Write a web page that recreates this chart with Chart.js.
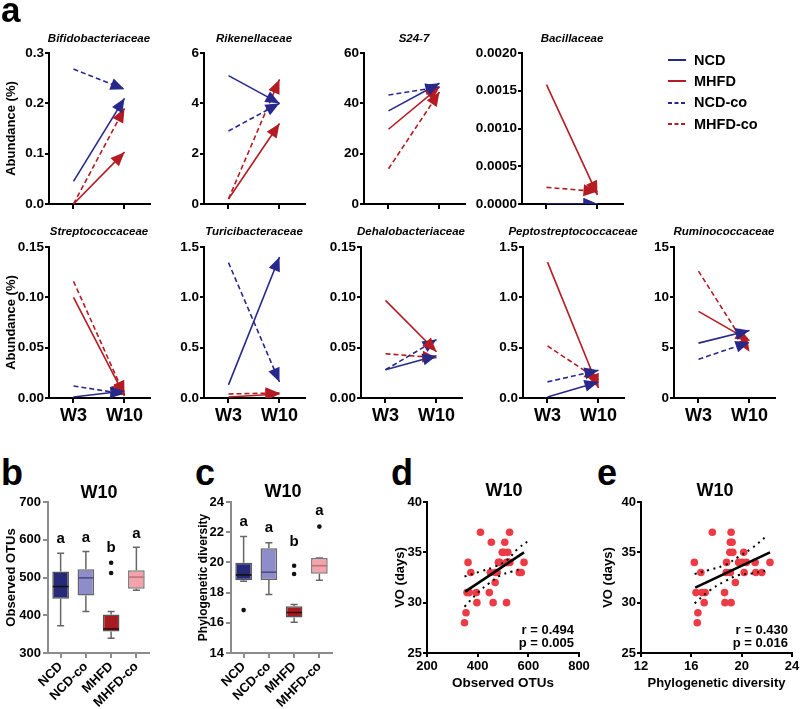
<!DOCTYPE html>
<html><head><meta charset="utf-8">
<script src="https://cdn.jsdelivr.net/npm/chart.js@4.4.1/dist/chart.umd.min.js"></script>
<style>
html,body{margin:0;padding:0;background:#fff;}
#root{position:relative;width:800px;height:709px;overflow:hidden;font-family:"Liberation Sans",Arial,sans-serif;background:#fff;}
#root canvas{position:absolute;}
.t{position:absolute;font-weight:bold;color:#000;white-space:nowrap;}
</style></head><body><div id="root"></div>
<script>
// ================= DATA =================
// Panel a: abundance (%) at W3 and W10, one entry per family
const families = ['Bifidobacteriaceae','Rikenellaceae','S24-7','Bacillaceae','Streptococcaceae','Turicibacteraceae','Dehalobacteriaceae','Peptostreptococcaceae','Ruminococcaceae'];
const timeLabels = ['W3','W10'];
const ncdW3     = [0.045, 5.10, 37.0, 0,        0.001, 0.13,  0.028, 0.01,  5.45];
const ncdW10    = [0.210, 4.00, 48.0, 0,        0.007, 1.40,  0.042, 0.16,  6.70];
const mhfdW3    = [0.000, 0.20, 29.7, 0.00158,  0.100, 0.01,  0.097, 1.35,  8.60];
const mhfdW10   = [0.103, 3.20, 46.5, 0.00012,  0.002, 0.04,  0.046, 0.10,  5.70];
const ncdCoW3   = [0.268, 2.90, 43.3, 0,        0.012, 1.345, 0.028, 0.16,  3.85];
const ncdCoW10  = [0.228, 4.00, 46.5, 0,        0.004, 0.16,  0.058, 0.275, 5.55];
const mhfdCoW3  = [0.000, 0.20, 14.0, 0.00022,  0.116, 0.04,  0.044, 0.517, 12.6];
const mhfdCoW10 = [0.190, 4.95, 44.5, 0.000166, 0.003, 0.05,  0.040, 0.18,  4.60];
const yTickLabels = [
  ['0.0','0.1','0.2','0.3'], ['0','2','4','6'], ['0','20','40','60'],
  ['0.0000','0.0005','0.0010','0.0015','0.0020'],
  ['0.00','0.05','0.10','0.15'], ['0.0','0.5','1.0','1.5'], ['0.00','0.05','0.10','0.15'],
  ['0.0','0.5','1.0','1.5'], ['0','5','10','15']
];
// Panels b, c: box plots at W10
const groups = ['NCD','NCD-co','MHFD','MHFD-co'];
const otuMin = [372, 410, 339, 466];
const otuQ1  = [444, 452, 357, 470];
const otuMed = [476, 499, 364, 501];
const otuQ3  = [516, 522, 402, 519];
const otuMax = [564, 569, 410, 580];
const otuOutliers = [[], [], [512, 539], []];
const otuLetters = ['a','a','b','a'];
const otuLetterY = [602, 605, 578, 615];
const otuTicks = ['300','400','500','600','700'];
const pdMin = [18.75, 17.87, 16.04, 18.81];
const pdQ1  = [18.81, 18.84, 16.35, 19.25];
const pdMed = [19.17, 19.35, 16.68, 19.78];
const pdQ3  = [19.98, 20.93, 17.10, 20.29];
const pdMax = [21.71, 21.30, 17.22, 20.29];
const pdOutliers = [[16.84], [], [19.23, 19.78], [22.37]];
const pdLetters = ['a','a','b','a'];
const pdLetterY = [22.68, 22.28, 21.35, 23.4];
const pdTicks = ['14','16','18','20','22','24'];
// Panels d, e: correlations with VO (days)
const otuX = [348,354,358,367,362,373,395,397,411,446,454,450,461,469,470,477,482,487,497,503,507,514,519,526,514,520,527,564,572,583];
const voD  = [28,29,31,31,34,33,31,30,37,31,36,33,30,32,33,33,34,34,35,35,36,30,35,37,34,34,34,33,33,34];
const fitD = [{x:351,y:31.1},{x:583,y:35.0}];
const bandDUp = [{x:348,y:32.6},{x:411,y:33.1},{x:470,y:33.6},{x:517,y:34.25},{x:556,y:35.3},{x:609,y:36.3}];
const bandDLo = [{x:348,y:29.6},{x:405,y:31.1},{x:444,y:31.9},{x:490,y:32.7},{x:536,y:33.1},{x:576,y:33.4}];
const pdX = [16.24,16.37,16.52,16.47,16.76,16.84,17.10,17.02,17.67,18.64,18.67,18.80,18.77,19.10,19.16,19.16,19.10,19.24,19.06,19.30,19.50,19.76,20.03,20.16,20.20,20.37,21.07,21.12,21.60,22.25];
const voE = [34,31,29,28,33,31,31,30,37,31,30,34,33,33,30,37,36,36,35,35,32,34,34,35,33,34,34,33,33,34];
const fitE = [{x:16.31,y:31.49},{x:22.25,y:35.0}];
const bandEUp = [{x:16.26,y:32.85},{x:17.4,y:33.25},{x:18.7,y:33.75},{x:19.77,y:34.57},{x:20.8,y:35.4},{x:21.93,y:36.56}];
const bandELo = [{x:16.26,y:29.93},{x:17.4,y:31.16},{x:18.7,y:32.15},{x:19.77,y:32.75},{x:20.8,y:32.9},{x:21.86,y:33.15}];
const voTicks = ['25','30','35','40'];
const otuXTicks = ['200','400','600','800'];
const pdXTicks = ['12','16','20','24'];
const statsD = ['r = 0.494','p = 0.005'];
const statsE = ['r = 0.430','p = 0.016'];

// ================= STYLE / HELPERS =================
const FONT = "'Liberation Sans', Arial, sans-serif";
Chart.defaults.font.family = FONT;
Chart.defaults.color = '#000';
Chart.defaults.animation = false;
const NAVY = '#27298a', RED = '#b41b22';
const root = document.getElementById('root');

function txt(s, x, baseline, size, align, italic) {
  const d = document.createElement('div');
  d.className = 't'; d.textContent = s;
  d.style.fontSize = size + 'px'; d.style.lineHeight = size + 'px';
  d.style.top = (baseline - 0.8465 * size) + 'px';
  d.style.left = x + 'px';
  if (italic) d.style.fontStyle = 'italic';
  if (align === 'center') d.style.transform = 'translateX(-50%)';
  if (align === 'right') d.style.transform = 'translateX(-100%)';
  root.appendChild(d);
}
function frame(l, t, r, b, yW, xH, padTop, padRight) {
  const c = document.createElement('canvas');
  const w = yW + (r - l) + padRight, h = padTop + (b - t) + xH;
  c.width = w; c.height = h;
  c.style.left = (l - yW) + 'px'; c.style.top = (t - padTop) + 'px';
  c.style.width = w + 'px'; c.style.height = h + 'px';
  root.appendChild(c);
  return c;
}
function axisStyle(color, tickLen) {
  return {
    grid: {display: true, drawOnChartArea: false, drawTicks: true, tickLength: tickLen, color: color, lineWidth: 2},
    border: {display: true, color: color, width: 2}
  };
}
function fixedY(w) { return s => { s.width = w; s.paddingTop = 0; s.paddingBottom = 0; s.paddingLeft = 0; s.paddingRight = 0; }; }
function fixedX(h) { return s => { s.height = h; s.paddingTop = 0; s.paddingBottom = 0; s.paddingLeft = 0; s.paddingRight = 0; }; }
function ticksFrom(labels) { const v = labels.map(Number); return s => { s.ticks = v.map(x => ({value: x})); }; }

// ================= PANEL a =================
const seriesDefs = [
  {name: 'NCD',     w3: ncdW3,    w10: ncdW10,    color: NAVY, dash: []},
  {name: 'MHFD',    w3: mhfdW3,   w10: mhfdW10,   color: RED,  dash: []},
  {name: 'NCD-co',  w3: ncdCoW3,  w10: ncdCoW10,  color: NAVY, dash: [5, 3]},
  {name: 'MHFD-co', w3: mhfdCoW3, w10: mhfdCoW10, color: RED,  dash: [5, 3]}
];
const arrowPlugin = {
  id: 'arrowheads',
  afterDatasetsDraw(chart) {
    const {ctx, chartArea: a} = chart;
    ctx.save();
    ctx.beginPath(); ctx.rect(a.left, a.top - 2, a.right - a.left + 2, a.bottom - a.top + 2); ctx.clip();
    for (let i = chart.data.datasets.length - 1; i >= 0; i--) {
      const pts = chart.getDatasetMeta(i).data;
      const p0 = pts[0], p1 = pts[pts.length - 1];
      const ang = Math.atan2(p1.y - p0.y, p1.x - p0.x);
      const L = 14, H = 6;
      const bx = p1.x - L * Math.cos(ang), by = p1.y - L * Math.sin(ang);
      ctx.beginPath();
      ctx.moveTo(p1.x, p1.y);
      ctx.lineTo(bx + H * Math.sin(ang), by - H * Math.cos(ang));
      ctx.lineTo(bx - H * Math.sin(ang), by + H * Math.cos(ang));
      ctx.closePath();
      ctx.fillStyle = chart.data.datasets[i].borderColor;
      ctx.fill();
    }
    ctx.restore();
  }
};
function familyChart(i, axisX, plotTop, plotBottom, bottomRow) {
  const first = (i === 0 || i === 4);
  const yW = first ? axisX : 54;
  const xH = bottomRow ? 36 : 12;
  const yVals = yTickLabels[i].map(Number);
  const cv = frame(axisX, plotTop, axisX + 101, plotBottom, yW, xH, 10, 10);
  new Chart(cv, {
    type: 'line',
    data: {datasets: seriesDefs.map(s => ({
      label: s.name, data: [{x: 0, y: s.w3[i]}, {x: 1, y: s.w10[i]}],
      borderColor: s.color, backgroundColor: s.color, borderDash: s.dash, borderWidth: 1.6,
      pointRadius: 0, fill: false, tension: 0
    }))},
    options: {
      responsive: false, animation: false,
      layout: {padding: {top: 10, right: 10, left: 0, bottom: 0}},
      plugins: {legend: {display: false}, tooltip: {enabled: false}},
      scales: {
        x: Object.assign({
          type: 'linear', min: -0.48, max: 1.5,
          afterBuildTicks: s => { s.ticks = [{value: 0}, {value: 1}]; },
          afterFit: fixedX(xH),
          ticks: {callback: (v, k) => bottomRow ? timeLabels[k] : '', font: {size: 18, weight: 'bold'}, color: '#000', padding: 2, maxRotation: 0, autoSkip: false}
        }, axisStyle('#000', 5)),
        y: Object.assign({
          min: 0, max: yVals[yVals.length - 1],
          afterBuildTicks: ticksFrom(yTickLabels[i]),
          afterFit: fixedY(yW),
          ticks: {callback: (v, k) => yTickLabels[i][k], font: {size: 13.5, weight: 'bold'}, color: '#000', padding: 1, autoSkip: false},
          title: {display: first, text: 'Abundance (%)', font: {size: 13, weight: 'bold'}, color: '#000', padding: {top: 4, bottom: 0}}
        }, axisStyle('#000', 4))
      }
    },
    plugins: [arrowPlugin]
  });
  txt(families[i], axisX + 50, bottomRow ? 236 : 42.5, 11.5, 'center', true);
}
[49, 204, 364, 522].forEach((x, k) => familyChart(k, x, 53, 204, false));
[49, 204, 361, 523, 674].forEach((x, k) => familyChart(k + 4, x, 247, 398, true));

// legend
(function () {
  const rows = [['NCD', NAVY, ''], ['MHFD', RED, ''], ['NCD-co', NAVY, '4 2.5'], ['MHFD-co', RED, '4 2.5']];
  const ys = [60, 81, 102.5, 124];
  rows.forEach((r, k) => {
    const svg = document.createElementNS('http://www.w3.org/2000/svg', 'svg');
    svg.setAttribute('width', '20'); svg.setAttribute('height', '6');
    svg.style.position = 'absolute'; svg.style.left = '667px'; svg.style.top = (ys[k] - 3) + 'px';
    const ln = document.createElementNS('http://www.w3.org/2000/svg', 'line');
    ln.setAttribute('x1', '1'); ln.setAttribute('x2', '19'); ln.setAttribute('y1', '3'); ln.setAttribute('y2', '3');
    ln.setAttribute('stroke', r[1]); ln.setAttribute('stroke-width', '2');
    if (r[2]) ln.setAttribute('stroke-dasharray', r[2]);
    svg.appendChild(ln); root.appendChild(svg);
    txt(r[0], 694, ys[k] + 5.2, 14.5);
  });
})();

// ================= PANELS b, c =================
const boxFill = ['#262a78', '#8f8dc9', '#a71b20', '#f4a3aa'];
const boxLine = ['#555', '#666', '#555', '#777'];
const medColor = ['#111', '#4e4c80', '#3a0808', '#b8767c'];
function boxPlugin(st) {
  return {
    id: 'boxparts',
    beforeDatasetsDraw(chart) {
      const {ctx} = chart; const xs = chart.scales.x, ys = chart.scales.y;
      ctx.save(); ctx.strokeStyle = '#666'; ctx.lineWidth = 1.5;
      groups.forEach((g, k) => {
        const x = xs.getPixelForValue(k);
        const yMin = ys.getPixelForValue(st.min[k]), yMax = ys.getPixelForValue(st.max[k]);
        const yQ1 = ys.getPixelForValue(st.q1[k]), yQ3 = ys.getPixelForValue(st.q3[k]);
        ctx.beginPath();
        ctx.moveTo(x, yQ3); ctx.lineTo(x, yMax); ctx.moveTo(x - 3.5, yMax); ctx.lineTo(x + 3.5, yMax);
        ctx.moveTo(x, yQ1); ctx.lineTo(x, yMin); ctx.moveTo(x - 3.5, yMin); ctx.lineTo(x + 3.5, yMin);
        ctx.stroke();
      });
      ctx.restore();
    },
    afterDatasetsDraw(chart) {
      const {ctx} = chart; const xs = chart.scales.x, ys = chart.scales.y;
      const bars = chart.getDatasetMeta(0).data;
      ctx.save();
      groups.forEach((g, k) => {
        const x = xs.getPixelForValue(k), hw = bars[k].width / 2 - 0.5;
        const ym = ys.getPixelForValue(st.med[k]);
        ctx.strokeStyle = medColor[k]; ctx.lineWidth = 1.6;
        ctx.beginPath(); ctx.moveTo(x - hw, ym); ctx.lineTo(x + hw, ym); ctx.stroke();
        ctx.fillStyle = '#111';
        st.out[k].forEach(v => { ctx.beginPath(); ctx.arc(x, ys.getPixelForValue(v), 2.3, 0, Math.PI * 2); ctx.fill(); });
        ctx.fillStyle = '#000'; ctx.font = 'bold 15px ' + FONT; ctx.textAlign = 'center'; ctx.textBaseline = 'middle';
        ctx.fillText(st.letters[k], x, ys.getPixelForValue(st.letterY[k]));
      });
      ctx.restore();
    }
  };
}
function boxChart(l, r, st, yTicks, yTitle, yTitleSize, yW, titlePad) {
  const cv = frame(l, 502, r, 653, yW, 56, 8, 8);
  const yv = yTicks.map(Number);
  new Chart(cv, {
    type: 'bar',
    data: {labels: groups, datasets: [{
      data: groups.map((g, k) => [st.q1[k], st.q3[k]]),
      backgroundColor: boxFill, borderColor: boxLine, borderWidth: 1.5, borderSkipped: false,
      barPercentage: 0.66, categoryPercentage: 1
    }]},
    options: {
      responsive: false, animation: false,
      layout: {padding: {top: 8, right: 8, left: 0, bottom: 0}},
      plugins: {legend: {display: false}, tooltip: {enabled: false}},
      scales: {
        x: Object.assign({
          offset: true, afterFit: fixedX(56),
          ticks: {font: {size: 13, weight: 'bold'}, color: '#000', minRotation: 45, maxRotation: 45, padding: 1, autoSkip: false}
        }, axisStyle('#8c8c8c', 5), {grid: {display: true, offset: false, drawOnChartArea: false, drawTicks: true, tickLength: 5, color: '#8c8c8c', lineWidth: 2}}),
        y: Object.assign({
          min: yv[0], max: yv[yv.length - 1],
          afterBuildTicks: ticksFrom(yTicks), afterFit: fixedY(yW),
          ticks: {callback: (v, k) => yTicks[k], font: {size: 13, weight: 'bold'}, color: '#000', padding: 2, autoSkip: false},
          title: {display: true, text: yTitle, font: {size: yTitleSize, weight: 'bold'}, color: '#000', padding: {top: titlePad, bottom: 0}}
        }, axisStyle('#8c8c8c', 5))
      }
    },
    plugins: [boxPlugin(st)]
  });
}
boxChart(48, 149, {min: otuMin, q1: otuQ1, med: otuMed, q3: otuQ3, max: otuMax, out: otuOutliers, letters: otuLetters, letterY: otuLetterY}, otuTicks, 'Observed OTUs', 13, 48, 4);
boxChart(231, 332, {min: pdMin, q1: pdQ1, med: pdMed, q3: pdQ3, max: pdMax, out: pdOutliers, letters: pdLetters, letterY: pdLetterY}, pdTicks, 'Phylogenetic diversity', 12, 35, 0);

// ================= PANELS d, e =================
function scatterChart(l, r, xs, ys, fit, up, lo, xTicks, xTitle, xTitleSize, yW) {
  const cv = frame(l, 502, r, 653, yW, 38, 8, 14);
  const xv = xTicks.map(Number), yv = voTicks.map(Number);
  const dotted = {type: 'line', borderColor: '#000', borderWidth: 2, borderDash: [2, 4.5], pointRadius: 0, tension: 0.4, fill: false, order: 1};
  new Chart(cv, {
    type: 'scatter',
    data: {datasets: [
      {data: xs.map((x, k) => ({x: x, y: ys[k]})), backgroundColor: '#ec3b45', borderWidth: 0, pointRadius: 3.8, order: 3},
      {type: 'line', data: fit, borderColor: '#000', borderWidth: 2.6, pointRadius: 0, fill: false, order: 1},
      Object.assign({data: up}, dotted),
      Object.assign({data: lo}, dotted)
    ]},
    options: {
      responsive: false, animation: false,
      layout: {padding: {top: 8, right: 14, left: 0, bottom: 0}},
      plugins: {legend: {display: false}, tooltip: {enabled: false}},
      scales: {
        x: Object.assign({
          type: 'linear', min: xv[0], max: xv[xv.length - 1],
          afterBuildTicks: ticksFrom(xTicks), afterFit: fixedX(38),
          ticks: {callback: (v, k) => xTicks[k], font: {size: 13, weight: 'bold'}, color: '#000', padding: 2, maxRotation: 0, autoSkip: false},
          title: {display: true, text: xTitle, font: {size: xTitleSize, weight: 'bold'}, color: '#000', padding: {top: 0, bottom: 0}}
        }, axisStyle('#000', 4)),
        y: Object.assign({
          min: yv[0], max: yv[yv.length - 1],
          afterBuildTicks: ticksFrom(voTicks), afterFit: fixedY(yW),
          ticks: {callback: (v, k) => voTicks[k], font: {size: 13, weight: 'bold'}, color: '#000', padding: 1, autoSkip: false},
          title: {display: true, text: 'VO (days)', font: {size: 13, weight: 'bold'}, color: '#000', padding: {top: 0, bottom: 0}}
        }, axisStyle('#000', 4))
      }
    }
  });
}
scatterChart(427, 579, otuX, voD, fitD, bandDUp, bandDLo, otuXTicks, 'Observed OTUs', 13.5, 34);
scatterChart(641, 792, pdX, voE, fitE, bandEUp, bandELo, pdXTicks, 'Phylogenetic diversity', 13, 40);

// ================= TEXT =================
txt('a', 1, 22, 35);
txt('b', 1, 485, 36);
txt('c', 195, 485, 36);
txt('d', 391, 485, 36);
txt('e', 597, 485, 36);
txt('W10', 99, 498, 18, 'center');
txt('W10', 283, 497, 18, 'center');
txt('W10', 504, 496.5, 18, 'center');
txt('W10', 715, 496.5, 18, 'center');
txt(statsD[0], 574, 634, 13, 'right');
txt(statsD[1], 574, 647.5, 13, 'right');
txt(statsE[0], 788, 634, 13, 'right');
txt(statsE[1], 788, 647.5, 13, 'right');
</script></body></html>
